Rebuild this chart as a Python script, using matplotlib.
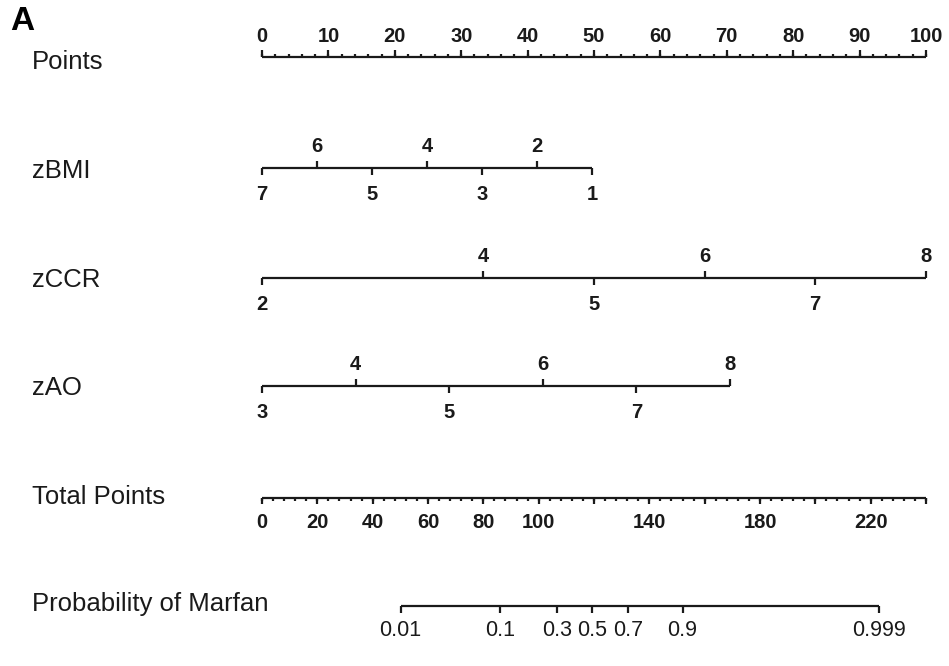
import matplotlib
matplotlib.use("Agg")
import matplotlib.pyplot as plt
from matplotlib.transforms import blended_transform_factory
import numpy as np

# nomogram data (positions on the 0-100 "Points" scale)
row_labels = ["Points", "zBMI", "zCCR", "zAO", "Total Points", "Probability of Marfan"]

points_major = list(range(0, 101, 10))
points_minor = list(range(0, 101, 2))

bmi_vals = [7, 6, 5, 4, 3, 2, 1]
bmi_pts = [0, 8.3, 16.6, 24.9, 33.1, 41.4, 49.7]

ccr_vals = [2, 4, 5, 6, 7, 8]
ccr_pts = [0, 33.3, 50, 66.7, 83.3, 100]

ao_vals = [3, 4, 5, 6, 7, 8]
ao_pts = [0, 14.1, 28.2, 42.3, 56.4, 70.5]

total_max = 240
total_major = list(range(0, 241, 20))
total_minor = list(range(0, 241, 4))
total_labels = [0, 20, 40, 60, 80, 100, 140, 180, 220]

prob_vals = ["0.01", "0.1", "0.3", "0.5", "0.7", "0.9", "0.999"]
prob_total = [50.1, 86.2, 106.7, 119.3, 132.2, 152.0, 223.0]

LC = "#1a1a1a"
LW = 1.6
FAM = ["Liberation Sans", "DejaVu Sans"]
tick_font = dict(family=FAM, fontsize=14.5, fontweight="bold", color=LC)

fig = plt.figure(figsize=(9.49, 6.66), dpi=100)
ax = fig.add_axes([262 / 949, 0, 664 / 949, 1])
ax.set_xlim(0, 100)
ax.set_ylim(666, 0)
ax.axis("off")

lab_tr = blended_transform_factory(fig.transFigure, ax.transData)


def row_label(text, y):
    ax.text(32 / 949, y, text, transform=lab_tr, ha="left", va="center",
            fontsize=18.5, family=FAM, color=LC)


def hline(x0, x1, y):
    ax.plot([x0, x1], [y, y], color=LC, lw=LW, solid_capstyle="butt", clip_on=False)


def ticks(xs, y, length):
    for x in xs:
        ax.plot([x, x], [y, y + length], color=LC, lw=LW, solid_capstyle="butt", clip_on=False)


# Points
y = 57
hline(0, 100, y)
ticks(points_minor, y, -3)
ticks(points_major, y, -7)
for v in points_major:
    ax.text(v, 37, str(v), ha="center", va="center", **tick_font)
row_label("Points", 62)


# predictor rows: labels alternate below / above
def var_row(name, vals, pts, y, yl):
    hline(pts[0], pts[-1], y)
    for i, (v, p) in enumerate(zip(vals, pts)):
        if i % 2 == 0:
            ticks([p], y, 7)
            ax.text(p, y + 26, str(v), ha="center", va="center", **tick_font)
        else:
            ticks([p], y, -7)
            ax.text(p, y - 21, str(v), ha="center", va="center", **tick_font)
    row_label(name, yl)


var_row("zBMI", bmi_vals, bmi_pts, 168, 171)
var_row("zCCR", ccr_vals, ccr_pts, 278, 280)
var_row("zAO", ao_vals, ao_pts, 386, 388)

# Total points
scale = 100 / total_max
y = 498
hline(0, 100, y)
ticks([t * scale for t in total_minor], y, 3)
ticks([t * scale for t in total_major], y, 6)
for v in total_labels:
    ax.text(v * scale, 522, str(v), ha="center", va="center", **tick_font)
row_label("Total Points", 497)

# Probability
y = 606
px = [t * scale for t in prob_total]
hline(px[0], px[-1], y)
ticks(px, y, 7)
for lab, p in zip(prob_vals, px):
    ax.text(p, 631, lab, ha="center", va="center", fontsize=15.5,
            family=FAM, color=LC)
row_label("Probability of Marfan", 604)

fig.text(10 / 949, 1 - 22 / 666, "A", ha="left", va="center", fontsize=24,
         fontweight="bold", family=FAM, color="black")

fig.savefig("out.png", dpi=100, facecolor="white")
